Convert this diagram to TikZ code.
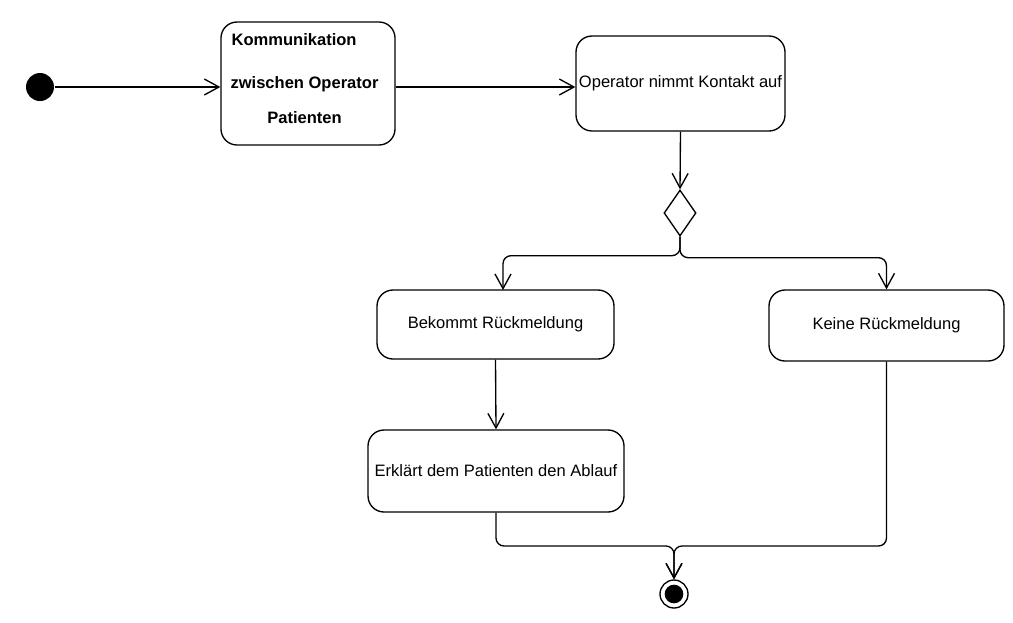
\documentclass[tikz,border=0pt]{standalone}
\usepackage{fontspec}
\setmainfont{Liberation Sans}
\usetikzlibrary{arrows.meta,shapes.geometric,calc}
\begin{document}
\begin{tikzpicture}[x=0.75pt,y=-0.75pt,line width=1pt,
  every node/.style={font=\fontsize{12.4}{14}\selectfont},
  actbox/.style={draw,rounded corners=12pt,align=center,inner sep=2pt},
  boldtxt/.style={font=\fontsize{12.4}{14}\selectfont\bfseries,inner sep=0pt},
  dec/.style={draw,diamond,inner sep=0pt,minimum width=24pt,minimum height=34.5pt},
  startdot/.style={circle,fill=black,inner sep=0pt,minimum size=21pt},
  enddot/.style={circle,draw,fill=white,inner sep=0pt,minimum size=21pt},
  enddotin/.style={circle,fill=black,inner sep=0pt,minimum size=14pt},
  arr/.style={-{Straight Barb[length=11pt,width=12pt]},rounded corners=6pt}]
\useasboundingbox (0,0) rectangle (1013,622);
\node[startdot] (s) at (40,87) {};
\node[actbox,minimum width=130.5pt,minimum height=92.25pt] (b1) at (308,83.5) {};
\node[boldtxt,anchor=west] (t1) at (231,40) {Kommunikation};
\node[boldtxt] (t2) at (304.5,84) {zwischen Operator};
\node[boldtxt] (t3) at (304.5,118) {Patienten};
\node[actbox,minimum width=156.75pt,minimum height=71.25pt] (b2) at (680.5,83.5) {Operator nimmt Kontakt auf};
\node[dec] (d) at (680,213) {};
\node[actbox,minimum width=177.75pt,minimum height=51.75pt] (b3) at (495.5,324.5) {Bekommt Rückmeldung};
\node[actbox,minimum width=176.25pt,minimum height=53.25pt] (b4) at (886.5,325.5) {Keine Rückmeldung};
\node[actbox,minimum width=192pt,minimum height=61.5pt] (b5) at (496,471) {Erklärt dem Patienten den Ablauf};
\node[enddot] (e) at (674,594) {};
\node[enddotin] (ei) at (e.center) {};
\coordinate (l) at (503,290);
\coordinate (m) at (674,546);
\draw[arr] (s) -- (s -| b1.west);
\draw[arr] (b1.east |- s) -- (b2.west |- s);
\draw[arr] (b2.south) -- (d.north);
\draw[arr] (d.south) -- ($(d.south)+(0,19)$) -| (l);
\draw[arr] (d.south) -- ($(d.south)+(0,21)$) -| (b4.north);
\draw[arr] (b3.south) -- (b5.north);
\draw[arr] (b5.south) |- (m) -- (e.north);
\draw[arr] (b4.south) |- (m) -- (e.north);
\end{tikzpicture}
\end{document}
